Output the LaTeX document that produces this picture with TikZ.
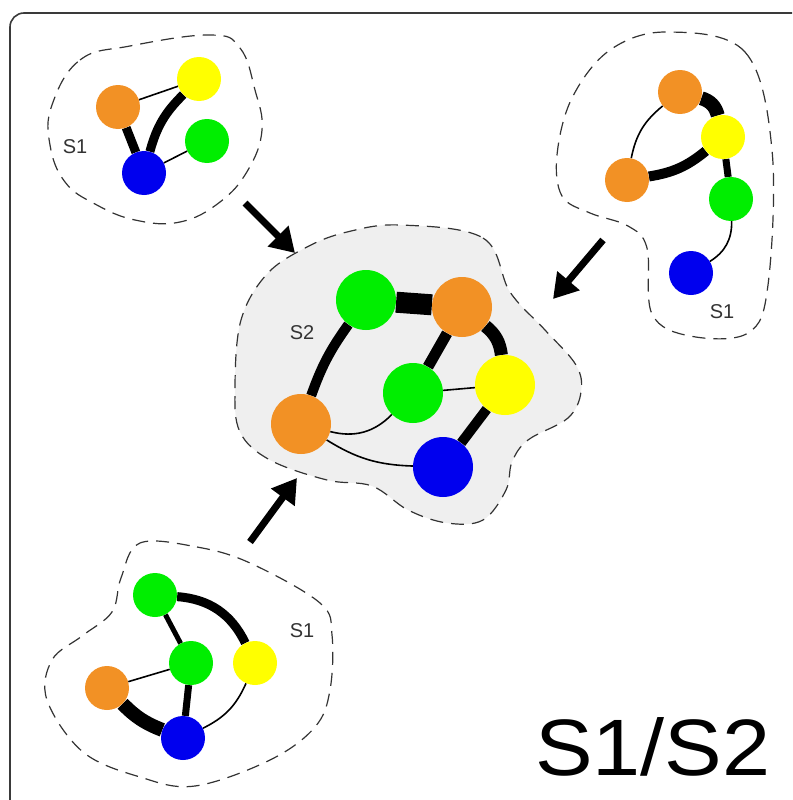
\documentclass[tikz,border=0pt]{standalone}
\usepackage{fontspec}
\setmainfont{Liberation Sans}
\usetikzlibrary{arrows.meta}
\pgfdeclarelayer{blob}
\pgfdeclarelayer{edges}
\pgfsetlayers{blob,edges,main}
\definecolor{vorange}{HTML}{F29125}
\definecolor{vyellow}{HTML}{FFFF00}
\definecolor{vgreen}{HTML}{00EE00}
\definecolor{vblue}{HTML}{0000EE}
\definecolor{framegray}{HTML}{3A3A3A}
\definecolor{blobfill}{HTML}{EFEFEF}
\begin{document}
\begin{tikzpicture}[x=1pt,y=-1pt,
  vtx/.style={circle,inner sep=0pt,minimum size=44pt},
  bigvtx/.style={circle,inner sep=0pt,minimum size=60pt},
  org/.style={fill=vorange},
  ylw/.style={fill=vyellow},
  grn/.style={fill=vgreen},
  blu/.style={fill=vblue},
  thin edge/.style={line width=1.6pt},
  mid edge/.style={line width=5pt},
  thick edge/.style={line width=9pt},
  heavy edge/.style={line width=14pt},
  boundary/.style={draw=black!80,line width=1.2pt,dash pattern=on 13pt off 8pt},
  bigarrow/.style={line width=7pt,-{Triangle[length=24pt,width=28pt]}},
  setlabel/.style={text=black!80,font=\fontsize{20}{20}\selectfont},
]
\useasboundingbox (0,0) rectangle (792,800);
\clip (0,0) rectangle (792,800);

% outer frame
\draw[framegray,line width=1.6pt,rounded corners=14pt] (10,13) rectangle (820,830);

% ---------- cluster A (top left) ----------
\node[vtx,org] (a1) at (118,107) {};
\node[vtx,ylw] (a2) at (199,79) {};
\node[vtx,grn] (a3) at (207,141) {};
\node[vtx,blu] (a4) at (144,173) {};
\begin{pgfonlayer}{edges}
  \draw[thin edge] (a1) -- (a2);
  \draw[thick edge] (a1) -- (a4);
  \draw[thick edge] (a4) to[bend left=15] (a2);
  \draw[thin edge] (a4) -- (a3);
\end{pgfonlayer}
\node[setlabel] (la) at (75,147) {S1};
\begin{pgfonlayer}{blob}
  \draw[boundary] plot[smooth cycle,tension=0.7] coordinates {
    (52,105) (80,60) (130,46) (210,35) (240,48) (255,90) (262,130)
    (248,170) (220,202) (180,222) (135,220) (95,204) (65,182) (50,145)};
\end{pgfonlayer}

% ---------- cluster B (top right) ----------
\node[vtx,org] (b1) at (680,92) {};
\node[vtx,ylw] (b2) at (723,137) {};
\node[vtx,org] (b3) at (627,180) {};
\node[vtx,grn] (b4) at (731,199) {};
\node[vtx,blu] (b5) at (691,273) {};
\begin{pgfonlayer}{edges}
  \draw[heavy edge] (b1) to[bend left=30] (b2);
  \draw[thin edge] (b1) to[bend right=20] (b3);
  \draw[line width=10pt] (b3) to[bend right=15] (b2);
  \draw[line width=7pt] (b2) -- (b4);
  \draw[thin edge] (b4) to[bend left=30] (b5);
\end{pgfonlayer}
\node[setlabel] (lb) at (722,312) {S1};
\begin{pgfonlayer}{blob}
  \draw[boundary] plot[smooth cycle,tension=0.6] coordinates {
    (667,32) (745,52) (772,150) (768,285) (748,333) (690,336)
    (652,314) (647,248) (628,226) (590,213) (562,196) (557,155)
    (572,98) (610,50)};
\end{pgfonlayer}

% ---------- cluster C (centre) ----------
\node[bigvtx,grn] (c1) at (366,300) {};
\node[bigvtx,org] (c2) at (462,307) {};
\node[bigvtx,grn] (c3) at (413,393) {};
\node[bigvtx,ylw] (c4) at (505,385) {};
\node[bigvtx,org] (c5) at (301,424) {};
\node[bigvtx,blu] (c6) at (443,467) {};
\begin{pgfonlayer}{edges}
  \draw[line width=21pt] (c1) -- (c2);
  \draw[line width=10pt] (c1) to[bend right=8] (c5);
  \draw[line width=11pt] (c2) -- (c3);
  \draw[line width=13pt] (c2) to[bend left=22] (c4);
  \draw[line width=10pt] (c4) -- (c6);
  \draw[thin edge] (c3) -- (c4);
  \draw[thin edge] (c5) to[bend right=30] (c3);
  \draw[thin edge] (c5) to[bend right=15] (c6);
\end{pgfonlayer}
\node[setlabel] (lc) at (302,333) {S2};
\begin{pgfonlayer}{blob}
  \draw[boundary,fill=blobfill] plot[smooth cycle,tension=0.6] coordinates {
    (400,225) (483,238) (510,292) (545,330) (576,365) (581,392)
    (568,418) (528,440) (512,462) (506,490) (483,520) (447,523)
    (408,510) (372,486) (327,480) (270,460) (240,432) (235,387)
    (241,320) (267,274) (307,247) (347,232)};
\end{pgfonlayer}

% ---------- cluster D (bottom left) ----------
\node[vtx,grn] (d1) at (155,595) {};
\node[vtx,grn] (d2) at (191,663) {};
\node[vtx,ylw] (d3) at (255,663) {};
\node[vtx,org] (d4) at (107,688) {};
\node[vtx,blu] (d5) at (183,738) {};
\begin{pgfonlayer}{edges}
  \draw[thick edge] (d1) to[bend left=30] (d3);
  \draw[mid edge] (d1) -- (d2);
  \draw[thin edge] (d4) -- (d2);
  \draw[line width=7pt] (d2) -- (d5);
  \draw[heavy edge] (d4) to[bend right=12] (d5);
  \draw[thin edge] (d3) to[bend left=20] (d5);
\end{pgfonlayer}
\node[setlabel] (ld) at (302,631) {S1};
\begin{pgfonlayer}{blob}
  \draw[boundary] plot[smooth cycle,tension=0.6] coordinates {
    (140,543) (197,547) (250,563) (320,603) (332,635) (330,690)
    (315,727) (270,760) (195,786) (140,777) (83,752) (47,700)
    (52,660) (82,636) (112,612) (121,578)};
\end{pgfonlayer}

% ---------- arrows into the merged set ----------
\coordinate (pa) at (245,203);
\coordinate (qa) at (295,253);
\coordinate (pb) at (603,240);
\coordinate (qb) at (553,299);
\coordinate (pc) at (250,542);
\coordinate (qc) at (297,478);
\draw[bigarrow] (pa) -- (qa);
\draw[bigarrow] (pb) -- (qb);
\draw[bigarrow] (pc) -- (qc);

% title
\node[anchor=base west,inner sep=0pt,xscale=1.08,font=\fontsize{80}{80}\selectfont] (title) at (535,775) {S1/S2};
\end{tikzpicture}
\end{document}
